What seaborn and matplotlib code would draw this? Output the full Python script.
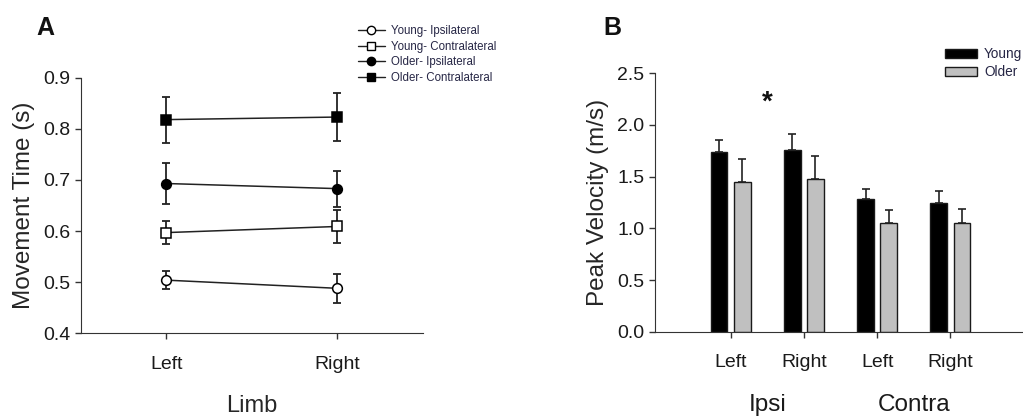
import numpy as np
import pandas as pd
import matplotlib
matplotlib.use("Agg")
import matplotlib.pyplot as plt
import matplotlib.transforms as mtransforms
from matplotlib.lines import Line2D
from matplotlib.patches import Patch
import seaborn as sns

# ---------------- data ----------------
limbs = ["Left", "Right"]
mt_series = ["Young- Ipsilateral", "Young- Contralateral", "Older- Ipsilateral", "Older- Contralateral"]
mt_young_ipsi = [0.504, 0.488]
mt_young_ipsi_err = [0.018, 0.028]
mt_young_contra = [0.597, 0.609]
mt_young_contra_err = [0.023, 0.033]
mt_older_ipsi = [0.693, 0.683]
mt_older_ipsi_err = [0.040, 0.035]
mt_older_contra = [0.818, 0.823]
mt_older_contra_err = [0.045, 0.047]

pv_conditions = ["Ipsi-Left", "Ipsi-Right", "Contra-Left", "Contra-Right"]
pv_tick_labels = ["Left", "Right", "Left", "Right"]
pv_groups = ["Young", "Older"]
pv_young = [1.739, 1.761, 1.281, 1.248]
pv_young_err = [0.115, 0.148, 0.103, 0.113]
pv_older = [1.452, 1.477, 1.055, 1.055]
pv_older_err = [0.216, 0.226, 0.122, 0.135]

# ---------------- style ----------------
sns.set_style("ticks")
plt.rcParams["font.family"] = ["Liberation Sans", "DejaVu Sans"]
plt.rcParams["axes.edgecolor"] = "#333333"
plt.rcParams["xtick.color"] = "#333333"
plt.rcParams["ytick.color"] = "#333333"
plt.rcParams["xtick.labelcolor"] = "#1a1a1a"
plt.rcParams["ytick.labelcolor"] = "#1a1a1a"

fig = plt.figure(figsize=(10.23, 4.17), dpi=100)
axA = fig.add_axes([0.0789, 0.2007, 0.3346, 0.6130])
axB = fig.add_axes([0.6403, 0.2046, 0.3597, 0.6196])

# ---------------- panel A ----------------
mt_vals = [mt_young_ipsi, mt_young_contra, mt_older_ipsi, mt_older_contra]
mt_errs = [mt_young_ipsi_err, mt_young_contra_err, mt_older_ipsi_err, mt_older_contra_err]
rows = []
for name, vals in zip(mt_series, mt_vals):
    for i, v in enumerate(vals):
        rows.append({"series": name, "x": i, "mt": v})
dfA = pd.DataFrame(rows)

markers = {"Young- Ipsilateral": "o", "Young- Contralateral": "s",
           "Older- Ipsilateral": "o", "Older- Contralateral": "s"}
faces = {"Young- Ipsilateral": "white", "Young- Contralateral": "white",
         "Older- Ipsilateral": "black", "Older- Contralateral": "black"}

for name, vals, errs in zip(mt_series, mt_vals, mt_errs):
    sub = dfA[dfA["series"] == name]
    axA.errorbar(sub["x"], sub["mt"], yerr=errs, fmt="none", ecolor="#222222",
                 elinewidth=1.3, capsize=3, capthick=1.3, zorder=2)
    sns.lineplot(data=sub, x="x", y="mt", ax=axA, color="#222222", linewidth=1.1,
                 marker=markers[name], markersize=7 if markers[name] == "o" else 6.5,
                 markerfacecolor=faces[name], markeredgecolor="black",
                 markeredgewidth=1.1, zorder=3, legend=False)

axA.set_xlim(-0.5, 1.5)
axA.set_ylim(0.4, 0.9)
axA.set_xticks([0, 1])
axA.set_xticklabels(limbs)
axA.set_yticks(np.arange(0.4, 0.91, 0.1))
axA.set_yticklabels([f"{t:.1f}" for t in np.arange(0.4, 0.91, 0.1)])
axA.tick_params(axis="both", labelsize=14, length=4, width=1, direction="out")
axA.tick_params(axis="x", pad=12)
axA.set_xlabel("Limb", fontsize=17, labelpad=16)
axA.set_ylabel("Movement Time (s)", fontsize=17.5, labelpad=6)
sns.despine(ax=axA)

handlesA = [Line2D([0], [0], color="#222222", lw=1, marker=markers[n], markersize=6 if markers[n] == "o" else 5.5,
                   markerfacecolor=faces[n], markeredgecolor="black") for n in mt_series]
legA = fig.legend(handlesA, mt_series, loc="upper left", bbox_to_anchor=(0.345, 0.950),
                  frameon=False, fontsize=8.3, handlelength=2.4, labelspacing=0.3,
                  handletextpad=0.5, borderaxespad=0)
for t in legA.get_texts():
    t.set_color("#262645")

fig.text(0.036, 0.915, "A", fontsize=18, fontweight="bold", color="#111111")

# ---------------- panel B ----------------
rowsB = []
for c, yv, ov in zip(pv_conditions, pv_young, pv_older):
    rowsB.append({"cond": c, "group": "Young", "pv": yv})
    rowsB.append({"cond": c, "group": "Older", "pv": ov})
dfB = pd.DataFrame(rowsB)

sns.barplot(data=dfB, x="cond", y="pv", hue="group", order=pv_conditions, hue_order=pv_groups,
            palette={"Young": "black", "Older": "#c0c0c0"}, width=0.63, gap=0.27,
            edgecolor="#1a1a1a", linewidth=1.0, errorbar=None, ax=axB, legend=False)

# error bars (upward only) placed on the bar centres
allerr = {"Young": pv_young_err, "Older": pv_older_err}
allval = {"Young": pv_young, "Older": pv_older}
for cont, g in zip(axB.containers, pv_groups):
    for rect, v, e in zip(cont, allval[g], allerr[g]):
        xc = rect.get_x() + rect.get_width() / 2
        axB.errorbar([xc], [v], yerr=[[0], [e]], fmt="none", ecolor="#222222",
                     elinewidth=1.2, capsize=2.7, capthick=1.2, zorder=1)

axB.set_xlim(-1.03, 3.99)
axB.set_ylim(0, 2.5)
axB.set_yticks(np.arange(0, 2.51, 0.5))
axB.set_yticklabels([f"{t:.1f}" for t in np.arange(0, 2.51, 0.5)])
axB.set_xticks(range(len(pv_conditions)))
axB.set_xticklabels(pv_tick_labels)
axB.tick_params(axis="both", labelsize=14, length=4, width=1, direction="out")
axB.tick_params(axis="x", pad=12)
axB.set_xlabel("")
axB.set_ylabel("Peak Velocity (m/s)", fontsize=17.5, labelpad=6)
sns.despine(ax=axB)

trans = mtransforms.blended_transform_factory(axB.transData, fig.transFigure)
axB.text(0.5, 0.003, "Ipsi", transform=trans, ha="center", va="bottom", fontsize=17.5, color="#1a1a1a")
axB.text(2.5, 0.003, "Contra", transform=trans, ha="center", va="bottom", fontsize=17.5, color="#1a1a1a")
axB.text(0.5, 2.22, "*", ha="center", va="center", fontsize=20, fontweight="bold", color="#111111")

handlesB = [Patch(facecolor="black", edgecolor="#1a1a1a"), Patch(facecolor="#c0c0c0", edgecolor="#1a1a1a")]
legB = fig.legend(handlesB, pv_groups, loc="upper left", bbox_to_anchor=(0.918, 0.900),
                  frameon=False, fontsize=9.8, handlelength=2.35, handleheight=0.65,
                  labelspacing=0.3, handletextpad=0.55, borderaxespad=0)
for t in legB.get_texts():
    t.set_color("#262645")

fig.text(0.590, 0.915, "B", fontsize=18, fontweight="bold", color="#111111")

fig.savefig("out.png", dpi=100, facecolor="white")
